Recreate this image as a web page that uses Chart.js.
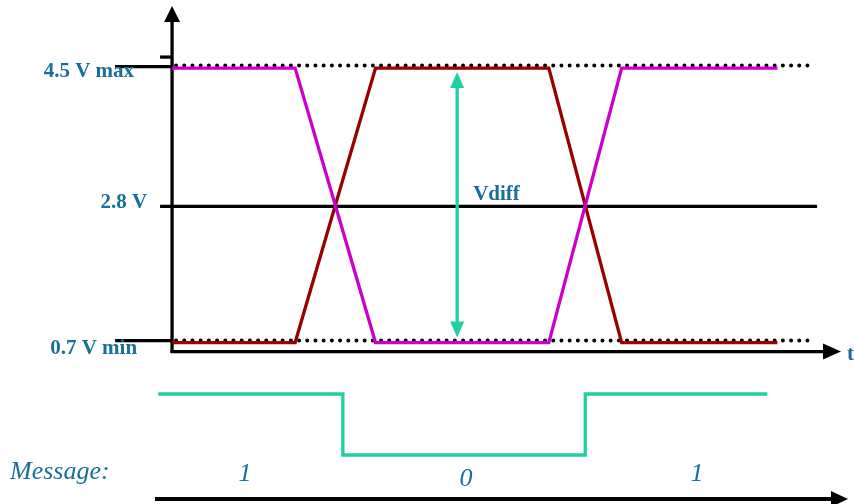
<!DOCTYPE html>
<html>
<head>
<meta charset="utf-8">
<script src="https://cdn.jsdelivr.net/npm/chart.js@4.4.1/dist/chart.umd.min.js"></script>
<style>
  html, body { margin: 0; padding: 0; background: #fff; }
  #signal { display: block; }
</style>
</head>
<body>
<canvas id="signal" width="854" height="504"></canvas>
<script>
// time in tenths of a bit, levels normalised: 0 = low (0.7 V), 1 = high (4.5 V)
var time_points = [0, 4.9, 8.1, 15.0, 17.9, 24.1]
var line_plus = [1, 1, 0, 0, 1, 1]    // magenta wire
var line_minus = [0, 0, 1, 1, 0, 0]   // dark red wire

var level_values = [1, 0.5, 0]
var level_labels = ['4.5 V max', '2.8 V', '0.7 V min']

var msg_times = [-0.55, 6.8, 6.8, 16.45, 16.45, 23.7]
var msg_bits = [1, 1, 0, 0, 1, 1]

var bit_centers = [2.9, 11.7, 20.9]
var bit_labels = ['1', '0', '1']

var vdiff_time = 11.35
var ref_end = 25.6

var TEAL = '#17709b'
var GREEN = '#1fd1a0'

function points(xs, ys){
    var out = []
    for (var i = 0; i < xs.length; i++){
        out.push({x: xs[i], y: ys[i]})
    }
    return out
}

function seg(ctx, x1, y1, x2, y2){
    ctx.beginPath()
    ctx.moveTo(x1, y1)
    ctx.lineTo(x2, y2)
    ctx.stroke()
}

function tri(ctx, a, b, c){
    ctx.beginPath()
    ctx.moveTo(a[0], a[1])
    ctx.lineTo(b[0], b[1])
    ctx.lineTo(c[0], c[1])
    ctx.closePath()
    ctx.fill()
}

var diagram = {
    id: 'diagram',
    beforeDatasetsDraw: function(chart){
        var ctx = chart.ctx
        var xs = chart.scales.x, ys = chart.scales.y
        var x0 = xs.getPixelForValue(0)
        var xEnd = xs.getPixelForValue(ref_end)
        var yHigh = ys.getPixelForValue(1)
        var yMid = ys.getPixelForValue(0.5)
        var yLow = ys.getPixelForValue(0)
        var axisY = yLow + 9

        ctx.save()
        ctx.strokeStyle = '#000'
        ctx.fillStyle = '#000'

        // dotted max / min lines
        ctx.lineWidth = 4
        ctx.setLineDash([0, 8.2])
        ctx.lineCap = 'round'
        seg(ctx, x0 + 4, yHigh - 2.5, xEnd, yHigh - 2.5)
        seg(ctx, x0 + 4, yLow - 2, xEnd, yLow - 2)
        ctx.setLineDash([])
        ctx.lineCap = 'butt'
        ctx.lineWidth = 3.3

        // 2.8 V line
        seg(ctx, x0 - 12, yMid + 1, xEnd + 2, yMid + 1)

        // ticks on y axis
        seg(ctx, x0 - 57, yHigh - 1.5, x0, yHigh - 1.5)
        seg(ctx, x0 - 57, yLow - 2, x0, yLow - 2)
        seg(ctx, x0 - 12, yHigh - 11, x0, yHigh - 11)

        // y axis with arrow
        seg(ctx, x0, axisY + 1.5, x0, 20)
        tri(ctx, [x0, 6], [x0 - 8, 22], [x0 + 8, 22])

        // x axis with arrow
        seg(ctx, x0 - 1.5, axisY, 826, axisY)
        tri(ctx, [841, axisY], [823, axisY - 8], [823, axisY + 8])

        // message time arrow
        ctx.lineWidth = 4
        seg(ctx, 155, 499, 834, 499)
        tri(ctx, [848, 499], [831, 491], [831, 507])

        // Vdiff double arrow
        var xv = xs.getPixelForValue(vdiff_time)
        ctx.lineWidth = 3.3
        ctx.strokeStyle = GREEN
        ctx.fillStyle = GREEN
        seg(ctx, xv, yHigh + 14, xv, yLow - 14)
        tri(ctx, [xv, yHigh + 4], [xv - 7, yHigh + 20], [xv + 7, yHigh + 20])
        tri(ctx, [xv, yLow - 5], [xv - 7, yLow - 21], [xv + 7, yLow - 21])
        ctx.restore()
    },
    afterDatasetsDraw: function(chart){
        var ctx = chart.ctx
        var xs = chart.scales.x, ys = chart.scales.y
        var x0 = xs.getPixelForValue(0)
        ctx.save()
        ctx.fillStyle = TEAL
        ctx.font = 'bold 21px "Liberation Serif", "Times New Roman", serif'
        ctx.textAlign = 'right'
        ctx.textBaseline = 'alphabetic'
        var rightEdge = [x0 - 38, x0 - 25, x0 - 35]
        var dy = [9, 3, 11.5]
        for (var i = 0; i < level_values.length; i++){
            ctx.fillText(level_labels[i], rightEdge[i], ys.getPixelForValue(level_values[i]) + dy[i])
        }
        ctx.textAlign = 'left'
        ctx.fillText('Vdiff', xs.getPixelForValue(vdiff_time) + 16, 200)
        ctx.fillText('t', 847, ys.getPixelForValue(0) + 17)

        ctx.font = 'italic 26px "Liberation Serif", "Times New Roman", serif'
        ctx.fillText('Message:', 10, 479)
        ctx.textAlign = 'center'
        for (var j = 0; j < bit_labels.length; j++){
            var drop = bit_labels[j] == '0' ? 5 : 0
            ctx.fillText(bit_labels[j], xs.getPixelForValue(bit_centers[j]), 481 + drop)
        }
        ctx.restore()
    }
}

var ctx = document.getElementById('signal').getContext('2d')
var signalChart = new Chart(ctx, {
    type: 'line',
    data: {
        datasets: [{
            label: 'D+',
            data: points(time_points, line_plus),
            borderColor: '#cc00cc',
            borderWidth: 3.3,
            yAxisID: 'y'
        }, {
            label: 'D-',
            data: points(time_points, line_minus),
            borderColor: '#990000',
            borderWidth: 3.3,
            yAxisID: 'y'
        }, {
            label: 'Message',
            data: points(msg_times, msg_bits),
            borderColor: GREEN,
            borderWidth: 3.3,
            yAxisID: 'yMsg'
        }]
    },
    options: {
        responsive: false,
        devicePixelRatio: 1,
        animation: false,
        layout: { padding: 0 },
        elements: {
            point: { radius: 0 },
            line: { tension: 0, fill: false, borderJoinStyle: 'miter' }
        },
        plugins: {
            legend: { display: false },
            tooltip: { enabled: false }
        },
        scales: {
            x: { type: 'linear', display: false, min: -6.85, max: 27.15 },
            y: { type: 'linear', display: false, min: -0.588, max: 1.248 },
            yMsg: { type: 'linear', display: false, min: -0.803, max: 7.459 }
        }
    },
    plugins: [diagram]
});
</script>
</body>
</html>
